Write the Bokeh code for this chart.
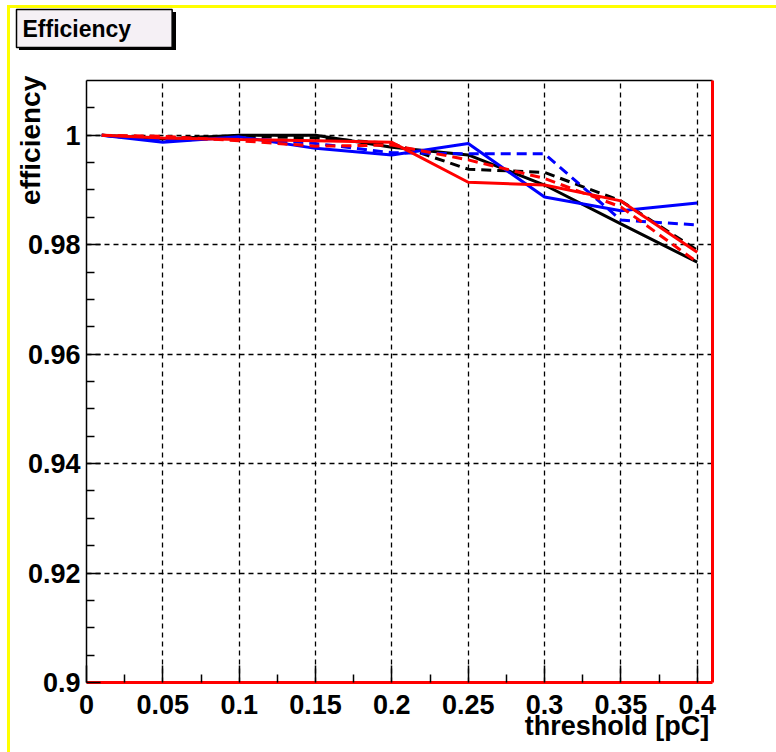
import math
from bokeh.plotting import figure
from bokeh.models import (FixedTicker, LinearAxis, Range1d, Title,
                          CustomJSTickFormatter)
from bokeh.embed import file_html
from bokeh.resources import INLINE

# ---------------- data ----------------
threshold = [0.01, 0.05, 0.1, 0.15, 0.2, 0.25, 0.3, 0.35, 0.4]
black_solid = [1.0, 0.9993, 1.0, 1.0, 0.9978, 0.9964, 0.9909, 0.9838, 0.9768]
black_dashed = [1.0, 0.9995, 0.9998, 0.9995, 0.9985, 0.9938, 0.9932, 0.9880, 0.9790]
blue_solid = [1.0, 0.9987, 0.9997, 0.9976, 0.9964, 0.9985, 0.9887, 0.9862, 0.9876]
blue_dashed = [1.0, 0.9990, 0.9995, 0.9985, 0.9968, 0.9966, 0.9966, 0.9845, 0.9836]
red_solid = [1.0, 0.9995, 0.9992, 0.9990, 0.9987, 0.9914, 0.9909, 0.9880, 0.9786]
red_dashed = [1.0, 0.9998, 0.9990, 0.9980, 0.9982, 0.9955, 0.9921, 0.9869, 0.9768]

x_major = [0, 0.05, 0.1, 0.15, 0.2, 0.25, 0.3, 0.35, 0.4]
x_minor = [0.025, 0.075, 0.125, 0.175, 0.225, 0.275, 0.325, 0.375]
y_major = [0.9, 0.92, 0.94, 0.96, 0.98, 1.0]
y_minor = [0.905, 0.91, 0.915, 0.925, 0.93, 0.935, 0.945, 0.95, 0.955,
           0.965, 0.97, 0.975, 0.985, 0.99, 0.995, 1.005]
x_grid = [0.05, 0.1, 0.15, 0.2, 0.25, 0.3, 0.35, 0.4]
y_grid = [0.92, 0.94, 0.96, 0.98, 1.0]

title_text = "Efficiency"
x_title = "threshold [pC]"
y_title = "efficiency"

# ---------------- geometry ----------------
W, H = 776, 752
FL, FR, FT, FB = 86, 712, 80, 682
X0, X1, Y0, Y1 = 0.0, 0.41, 0.9, 1.01
FONT = "Liberation Sans"
NBSP = "\u00a0"

p = figure(width=W, height=H, x_range=Range1d(X0, X1), y_range=Range1d(Y0, Y1),
           output_backend="svg", toolbar_location=None, title=None,
           min_border_left=FL, min_border_right=W - FR,
           min_border_top=FT, min_border_bottom=H - FB)
p.outline_line_color = None
p.background_fill_color = "white"
p.border_fill_color = None

# canvas decorations behind the (transparent) border area:
# yellow canvas edge on left/top and the title-box shadow
p.styles = {
    "background": (
        "linear-gradient(#ffff00,#ffff00) 7px 5px / 3px 747px no-repeat, "
        "linear-gradient(#ffff00,#ffff00) 7px 5px / 769px 3px no-repeat, "
        "linear-gradient(#000000,#000000) 19px 12px / 157px 38px no-repeat, "
        "#ffffff"
    )
}

fmt = CustomJSTickFormatter(code="return String(Math.round(tick*1000)/1000);")

xa = p.xaxis[0]
xa.ticker = FixedTicker(ticks=x_major, minor_ticks=x_minor)
xa.formatter = fmt
xa.axis_line_color = "#ff0000"
xa.axis_line_width = 3
xa.major_tick_in = 17
xa.major_tick_out = 0
xa.minor_tick_in = 8
xa.minor_tick_out = 0
xa.major_tick_line_color = "black"
xa.minor_tick_line_color = "black"
xa.major_tick_line_width = 1.5
xa.minor_tick_line_width = 1.5
xa.major_label_text_font = FONT
xa.major_label_text_font_style = "bold"
xa.major_label_text_font_size = "27px"
xa.major_label_text_color = "black"
xa.major_label_standoff = 12
# label right-aligned at the frame end (ROOT style): centred label padded on the left
xa.axis_label = NBSP * 58 + x_title
xa.axis_label_align = "center"
xa.axis_label_text_font = FONT
xa.axis_label_text_font_style = "bold"
xa.axis_label_text_font_size = "27px"
xa.axis_label_text_color = "black"
xa.axis_label_standoff = -6

ya = p.yaxis[0]
ya.ticker = FixedTicker(ticks=y_major, minor_ticks=y_minor)
ya.formatter = fmt
ya.axis_line_color = "black"
ya.axis_line_width = 1.5
ya.major_tick_in = 14
ya.major_tick_out = 0
ya.minor_tick_in = 8
ya.minor_tick_out = 0
ya.major_tick_line_color = "black"
ya.minor_tick_line_color = "black"
ya.major_tick_line_width = 1.5
ya.minor_tick_line_width = 1.5
ya.major_label_text_font = FONT
ya.major_label_text_font_style = "bold"
ya.major_label_text_font_size = "27px"
ya.major_label_text_color = "black"
ya.major_label_standoff = 6
# label top-aligned at the frame top (ROOT style)
ya.axis_label = NBSP * 62 + y_title
ya.axis_label_align = "center"
ya.axis_label_text_font = FONT
ya.axis_label_text_font_style = "bold"
ya.axis_label_text_font_size = "28px"
ya.axis_label_text_color = "black"
ya.axis_label_standoff = -21

# top edge of the frame; an invisible outward tick reserves the gap below the title box
blank = CustomJSTickFormatter(code="return '';")
top_axis = LinearAxis(ticker=FixedTicker(ticks=[0.2], minor_ticks=[]),
                      formatter=blank, axis_line_color="black",
                      axis_line_width=1.5, major_label_text_font_size="1px",
                      major_label_standoff=0, major_tick_out=33, major_tick_in=0,
                      minor_tick_out=0, minor_tick_in=0,
                      major_tick_line_color=None, minor_tick_line_color=None)
p.add_layout(top_axis, "above")
right_axis = LinearAxis(ticker=FixedTicker(ticks=[]), axis_line_color="#ff0000",
                        axis_line_width=3, major_label_text_font_size="0px",
                        major_tick_line_color=None, minor_tick_line_color=None)
p.add_layout(right_axis, "right")

title = Title(text=title_text, align="left", offset=-70, standoff=0,
              text_font=FONT, text_font_style="bold", text_font_size="23px",
              text_color="black", background_fill_color="#f5f0f5",
              border_line_color="black", border_line_width=1.5,
              padding=dict(top=6, right=41, bottom=6, left=6))
p.add_layout(title, "above")

p.xgrid.ticker = FixedTicker(ticks=x_grid)
p.ygrid.ticker = FixedTicker(ticks=y_grid)
for g in (p.xgrid[0], p.ygrid[0]):
    g.grid_line_color = "black"
    g.grid_line_dash = "5 4"
    g.grid_line_width = 1.3

series = [
    (black_solid, "black", "solid"),
    (black_dashed, "black", "10 6"),
    (blue_solid, "#0000ff", "solid"),
    (blue_dashed, "#0000ff", "10 6"),
    (red_solid, "#ff0000", "solid"),
    (red_dashed, "#ff0000", "10 6"),
]
for ys, col, dash in series:
    p.line(threshold, ys, line_color=col, line_width=3, line_dash=dash)

open("out.html", "w").write(file_html(p, INLINE))
